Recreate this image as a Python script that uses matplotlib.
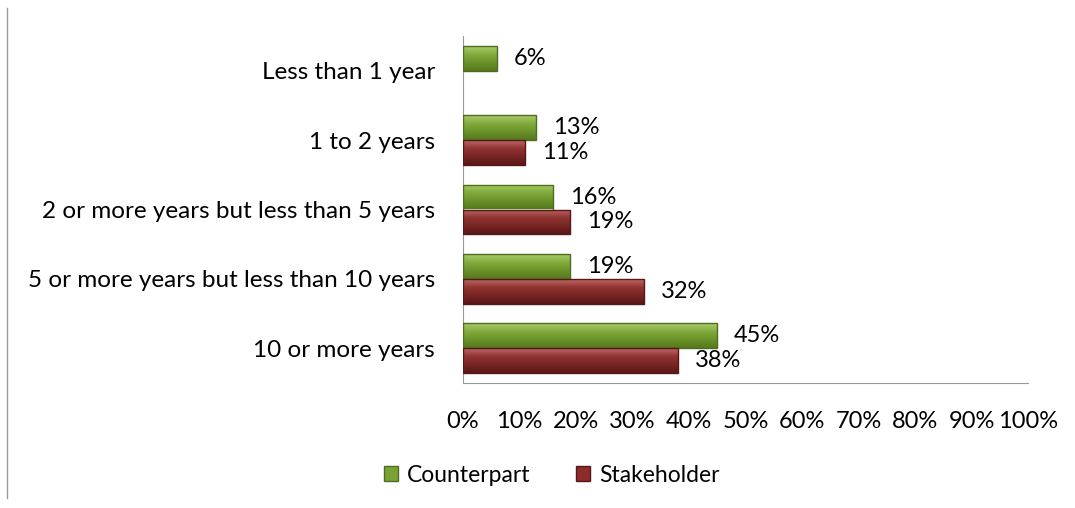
import numpy as np
import matplotlib.pyplot as plt
from matplotlib.lines import Line2D
from matplotlib.patches import Patch
from matplotlib.colors import LinearSegmentedColormap

categories = ["Less than 1 year", "1 to 2 years", "2 or more years but less than 5 years",
              "5 or more years but less than 10 years", "10 or more years"]
counterpart = [6, 13, 16, 19, 45]
stakeholder = [None, 11, 19, 32, 38]
xticks = [0, 10, 20, 30, 40, 50, 60, 70, 80, 90, 100]

plt.rcParams['font.family'] = ['Lato', 'DejaVu Sans']
plt.rcParams['font.size'] = 17

fig = plt.figure(figsize=(10.75, 5.08), dpi=100)
ax = fig.add_axes([463/1075, 1 - 383/508, (1028-463)/1075, 347/508])

green, green_edge = "#7aa336", "#4f6d1f"
red, red_edge = "#8c2c2b", "#5a1717"
green_cm = LinearSegmentedColormap.from_list('g', ["#a9cc6a", "#82ab3c", "#6a9229", "#56781e"])
red_cm = LinearSegmentedColormap.from_list('r', ["#bd6a68", "#913432", "#772524", "#5a1717"])
grad = np.linspace(0, 1, 64).reshape(-1, 1)

pos = np.arange(len(categories))
h = 0.36


def bar(y, val, cm, edge):
    b = ax.barh(y, val, height=h, color='none', edgecolor=edge, linewidth=1, zorder=3)[0]
    im = ax.imshow(grad, cmap=cm, aspect='auto', extent=(0, val, y + h/2, y - h/2),
                   zorder=2, interpolation='bilinear')
    im.set_clip_path(b)
    ax.text(val + 3.0, y, f"{val}%", va='center', ha='left')


for i in pos:
    bar(i - h/2, counterpart[i], green_cm, green_edge)
    if stakeholder[i] is not None:
        bar(i + h/2, stakeholder[i], red_cm, red_edge)

ax.set_xlim(0, 100)
ax.set_ylim(len(categories) - 0.5, -0.5)
ax.set_yticks(pos)
ax.set_yticklabels(categories, fontsize=17.5)
ax.set_xticks(xticks)
ax.set_xticklabels([f"{t}%" for t in xticks])
ax.tick_params(length=0)
ax.tick_params(axis='y', pad=20)
ax.tick_params(axis='x', pad=20)
for s in ['top', 'right']:
    ax.spines[s].set_visible(False)
for s in ['left', 'bottom']:
    ax.spines[s].set_color('#999999')

fig.add_artist(Line2D([7/1075, 7/1075], [1 - 498/508, 1 - 8/508], color='#999999', lw=1))

handles = [Patch(facecolor=green, edgecolor=green_edge, label='Counterpart'),
           Patch(facecolor=red, edgecolor=red_edge, label='Stakeholder')]
fig.legend(handles=handles, loc='center', bbox_to_anchor=(552/1075, 1 - 475/508), ncol=2,
           frameon=False, handlelength=0.6, handleheight=0.6, handletextpad=0.4,
           columnspacing=2.0, borderpad=0, fontsize=16.5)

fig.savefig('out.png', dpi=100)
